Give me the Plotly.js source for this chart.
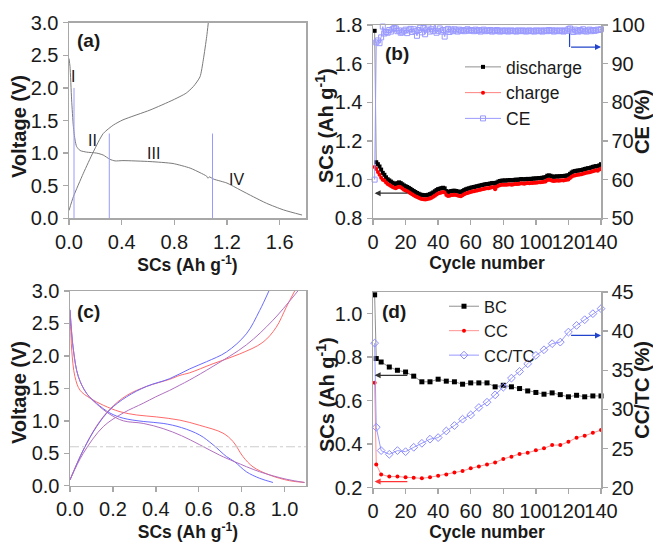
<!DOCTYPE html>
<html><head><meta charset="utf-8">
<script src="https://cdn.plot.ly/plotly-3.0.1.min.js"></script>
<style>html,body{margin:0;padding:0;background:#fff}#chart{width:653px;height:542px}</style>
</head><body><div id="chart"></div>
<script>
// ---------- Panel (a) ----------
const aDisX = [0, 0.0076, 0.02, 0.033, 0.046, 0.058, 0.084, 0.134, 0.21, 0.26, 0.31, 0.35, 0.41, 0.615, 0.79, 0.92, 0.995, 1.046, 1.055, 1.065, 1.1, 1.2, 1.3, 1.4, 1.5, 1.63, 1.77];
const aDisY = [2.45, 2.33, 1.815, 1.41, 1.2, 1.1, 1.04, 1.015, 1.0, 0.97, 0.905, 0.88, 0.885, 0.87, 0.84, 0.77, 0.7, 0.645, 0.615, 0.635, 0.6, 0.54, 0.435, 0.33, 0.23, 0.128, 0.05];
const aChaX = [0, 0.033, 0.109, 0.185, 0.26, 0.337, 0.41, 0.615, 0.79, 0.89, 0.944, 0.995, 1.02, 1.046, 1.058];
const aChaY = [0.12, 0.33, 0.69, 1.02, 1.3, 1.43, 1.51, 1.66, 1.815, 1.92, 2.02, 2.17, 2.43, 2.79, 3.0];
const aStageX = [0.038, 0.306, 1.09];
const aStageTop = [2.0, 1.3, 1.3];
const aLabels = ['I', 'II', 'III', 'IV'];
const aLabelX = [0.028, 0.18, 0.64, 1.27];
const aLabelY = [2.17, 1.2, 0.99, 0.6];

// ---------- Panel (b) ----------
const bDischarge = [1.770,1.090,1.080,1.068,1.052,1.035,1.025,1.012,1.002,0.996,
0.990,0.984,0.980,0.976,0.982,0.986,0.982,0.976,0.970,0.966,
0.962,0.957,0.952,0.946,0.941,0.936,0.931,0.927,0.923,0.921,
0.920,0.918,0.920,0.922,0.925,0.929,0.934,0.940,0.946,0.951,
0.953,0.956,0.958,0.955,0.941,0.936,0.938,0.941,0.942,0.943,
0.941,0.939,0.937,0.935,0.941,0.946,0.950,0.953,0.955,0.958,
0.960,0.962,0.964,0.966,0.968,0.970,0.972,0.974,0.976,0.977,
0.978,0.980,0.982,0.983,0.979,0.985,0.990,0.993,0.995,0.995,
0.996,0.995,0.997,0.998,0.996,0.997,0.999,1.000,0.999,1.001,
1.003,1.002,1.001,1.003,1.004,1.003,1.004,1.005,1.006,1.006,
1.007,1.008,1.008,1.010,1.011,1.013,1.020,1.022,1.020,1.016,
1.015,1.016,1.017,1.016,1.018,1.019,1.018,1.020,1.021,1.023,
1.030,1.037,1.042,1.044,1.046,1.047,1.048,1.050,1.052,1.055,
1.057,1.059,1.060,1.063,1.066,1.068,1.070,1.068,1.074,1.080];
const bCharge = [1.065,1.055,1.040,1.025,1.010,1.000,0.995,0.985,0.978,0.972,
0.967,0.962,0.958,0.955,0.960,0.963,0.960,0.954,0.948,0.944,
0.940,0.935,0.930,0.924,0.919,0.914,0.910,0.906,0.902,0.900,
0.899,0.897,0.899,0.901,0.903,0.906,0.911,0.917,0.923,0.928,
0.931,0.934,0.936,0.933,0.920,0.915,0.917,0.920,0.921,0.922,
0.920,0.918,0.916,0.914,0.919,0.924,0.928,0.931,0.933,0.936,
0.938,0.940,0.942,0.944,0.946,0.948,0.950,0.952,0.954,0.955,
0.956,0.958,0.960,0.961,0.950,0.963,0.968,0.971,0.973,0.973,
0.974,0.973,0.975,0.976,0.974,0.975,0.977,0.978,0.977,0.979,
0.981,0.980,0.979,0.981,0.982,0.981,0.982,0.983,0.984,0.984,
0.985,0.986,0.986,0.988,0.989,0.991,0.998,1.000,0.998,0.994,
0.993,0.994,0.995,0.994,0.996,0.997,0.996,0.998,0.999,1.001,
1.008,1.015,1.020,1.022,1.024,1.025,1.026,1.028,1.030,1.033,
1.035,1.037,1.038,1.041,1.044,1.046,1.048,1.046,1.052,1.058];
const bCE = [60.0,95.5,96.0,95.3,96.8,99.6,97.8,98.2,98.0,98.7,
98.3,98.9,99.2,99.1,98.4,98.6,98.0,98.1,98.5,98.8,
97.9,98.6,99.0,98.2,98.9,98.4,97.2,98.7,99.3,98.1,
99.2,97.6,98.8,99.4,98.3,98.9,98.5,100.6,98.0,98.5,
99.1,98.3,98.7,97.0,98.6,99.0,98.2,98.8,98.4,98.9,
98.6,98.3,98.8,98.5,98.7,98.4,98.6,98.9,98.5,98.7,
98.6,98.4,98.8,98.5,98.7,98.3,98.6,98.8,98.4,98.6,
98.5,98.7,98.3,98.6,98.4,98.7,98.5,98.3,98.6,98.4,
98.5,98.6,98.3,98.5,98.6,98.4,98.5,98.3,98.6,98.5,
98.4,98.6,98.5,98.3,98.5,98.6,98.4,98.5,98.3,98.6,
98.5,98.4,98.6,98.3,98.5,98.6,98.4,98.7,98.5,98.6,
98.3,98.6,98.5,98.4,98.6,98.5,98.3,98.6,98.5,98.9,
99.1,98.6,98.2,98.8,98.5,98.3,98.7,98.4,98.9,98.5,
98.3,98.6,98.8,98.4,98.7,98.5,98.6,98.8,98.7,98.9];
const bCycles = [];
for (let i = 1; i <= bDischarge.length; i++) bCycles.push(i);

// ---------- Panel (c) ----------
const cRedDisX = [0, 0.003, 0.008, 0.023, 0.047, 0.093, 0.155, 0.233, 0.31, 0.403, 0.512, 0.605, 0.713, 0.76, 0.806, 0.853, 0.93, 1.023, 1.093];
const cRedDisY = [2.6, 2.45, 2.09, 1.68, 1.47, 1.35, 1.24, 1.14, 1.09, 1.06, 1.01, 0.93, 0.81, 0.68, 0.45, 0.29, 0.165, 0.077, 0.05];
const cBlueDisX = [0, 0.016, 0.039, 0.078, 0.124, 0.186, 0.248, 0.341, 0.434, 0.52, 0.605, 0.667, 0.729, 0.767, 0.822, 0.884, 0.946];
const cBlueDisY = [2.71, 2.09, 1.68, 1.42, 1.27, 1.12, 1.04, 0.99, 0.96, 0.895, 0.78, 0.63, 0.45, 0.37, 0.215, 0.114, 0.05];
const cPurDisX = [0, 0.016, 0.039, 0.078, 0.124, 0.186, 0.248, 0.341, 0.434, 0.52, 0.605, 0.698, 0.767, 0.884, 1.008, 1.093];
const cPurDisY = [2.71, 2.09, 1.68, 1.42, 1.26, 1.1, 1.0, 0.96, 0.88, 0.77, 0.63, 0.47, 0.37, 0.215, 0.1, 0.05];
const cBlueChaX = [0, 0.062, 0.124, 0.186, 0.264, 0.357, 0.465, 0.558, 0.636, 0.729, 0.822, 0.884, 0.927];
const cBlueChaY = [0.09, 0.55, 0.91, 1.17, 1.37, 1.53, 1.65, 1.8, 1.91, 2.06, 2.34, 2.7, 3.0];
const cRedChaX = [0, 0.062, 0.124, 0.186, 0.264, 0.357, 0.465, 0.512, 0.558, 0.667, 0.791, 0.899, 0.961, 1.008, 1.047];
const cRedChaY = [0.09, 0.55, 0.92, 1.18, 1.39, 1.53, 1.64, 1.70, 1.74, 1.88, 2.03, 2.21, 2.44, 2.75, 3.0];
const cPurChaX = [0, 0.062, 0.155, 0.248, 0.341, 0.4, 0.465, 0.512, 0.558, 0.667, 0.822, 0.946, 1.062];
const cPurChaY = [0.09, 0.5, 0.91, 1.12, 1.27, 1.37, 1.47, 1.55, 1.63, 1.84, 2.17, 2.55, 3.0];
const cCutoff = 0.6;

// ---------- Panel (d) ----------
const dCycles = [1,2,5,10,15,20,25,30,35,40,45,50,55,60,65,70,75,80,85,90,95,100,105,110,115,120,125,130,135,140];
const dBC = [1.087,0.794,0.778,0.755,0.740,0.732,0.713,0.687,0.687,0.699,0.690,0.687,0.676,0.682,0.682,0.682,0.664,0.671,0.664,0.656,0.645,0.638,0.630,0.636,0.628,0.618,0.625,0.618,0.622,0.622];
const dCC = [0.683,0.307,0.261,0.251,0.251,0.248,0.246,0.243,0.248,0.255,0.261,0.270,0.277,0.289,0.297,0.307,0.316,0.332,0.342,0.355,0.361,0.372,0.381,0.396,0.396,0.411,0.430,0.439,0.453,0.465];
const dRatio = [38.47,27.72,24.74,24.27,24.74,24.60,25.16,25.67,26.20,26.40,27.25,27.94,28.75,29.30,30.24,30.92,31.86,32.84,34.00,34.85,35.83,36.90,37.62,38.40,38.60,39.88,40.73,41.46,42.23,42.87];

const FONT = 'Liberation Sans, Arial, sans-serif';
const AXC = '#a8a8a8';
function ax(extra) {
  return Object.assign({
    showline: true, linecolor: AXC, linewidth: 1.5, mirror: true,
    ticks: 'outside', ticklen: 5, tickwidth: 1.5, tickcolor: AXC,
    showgrid: false, zeroline: false, tickangle: 0,
    tickfont: {size: 20, color: '#1a1a1a', family: FONT}
  }, extra);
}
const sc = '<b>SCs (Ah g<sup>-1</sup>)</b>';
const xTitle = t => ({text: t, font: {size: 17.5, color: '#1a1a1a', family: FONT}, standoff: 0});
const yTitle = t => ({text: t, font: {size: 20, color: '#1a1a1a', family: FONT}, standoff: 0});

const traces = [
  // (a)
  {x: aDisX, y: aDisY, xaxis: 'x', yaxis: 'y', mode: 'lines', line: {color: '#7a7a7a', width: 1, shape: 'spline', smoothing: 0.6}, showlegend: false},
  {x: aChaX, y: aChaY, xaxis: 'x', yaxis: 'y', mode: 'lines', line: {color: '#7a7a7a', width: 1, shape: 'spline', smoothing: 0.6}, showlegend: false},
  // (b)
  {x: bCycles, y: bDischarge, xaxis: 'x2', yaxis: 'y2', name: 'discharge', mode: 'lines+markers', line: {color: '#909090', width: 1}, marker: {symbol: 'square', size: 4, color: '#000'}, cliponaxis: false, legend: 'legend'},
  {x: bCycles, y: bCharge, xaxis: 'x2', yaxis: 'y2', name: 'charge', mode: 'lines+markers', line: {color: '#ff8080', width: 1}, marker: {symbol: 'circle', size: 4, color: '#ff0000'}, cliponaxis: false, legend: 'legend'},
  {x: bCycles, y: bCE, xaxis: 'x2', yaxis: 'y3', name: 'CE', mode: 'lines+markers', line: {color: '#9a9aff', width: 1}, marker: {symbol: 'square-open', size: 5, color: '#9a9aff', line: {width: 1}}, cliponaxis: false, legend: 'legend'},
  // (c)
  {x: cRedDisX, y: cRedDisY, xaxis: 'x3', yaxis: 'y4', mode: 'lines', line: {color: '#ff6a6a', width: 1, shape: 'spline'}, showlegend: false},
  {x: cBlueDisX, y: cBlueDisY, xaxis: 'x3', yaxis: 'y4', mode: 'lines', line: {color: '#6a6aff', width: 1, shape: 'spline'}, showlegend: false},
  {x: cPurDisX, y: cPurDisY, xaxis: 'x3', yaxis: 'y4', mode: 'lines', line: {color: '#b070c0', width: 1, shape: 'spline'}, showlegend: false},
  {x: cRedChaX, y: cRedChaY, xaxis: 'x3', yaxis: 'y4', mode: 'lines', line: {color: '#ff6a6a', width: 1, shape: 'spline'}, showlegend: false},
  {x: cBlueChaX, y: cBlueChaY, xaxis: 'x3', yaxis: 'y4', mode: 'lines', line: {color: '#6a6aff', width: 1, shape: 'spline'}, showlegend: false},
  {x: cPurChaX, y: cPurChaY, xaxis: 'x3', yaxis: 'y4', mode: 'lines', line: {color: '#b070c0', width: 1, shape: 'spline'}, showlegend: false},
  // (d)
  {x: dCycles, y: dBC, xaxis: 'x4', yaxis: 'y5', name: 'BC', mode: 'lines+markers', line: {color: '#909090', width: 1}, marker: {symbol: 'square', size: 5, color: '#000'}, cliponaxis: false, legend: 'legend2'},
  {x: dCycles, y: dCC, xaxis: 'x4', yaxis: 'y5', name: 'CC', mode: 'lines+markers', line: {color: '#ff9090', width: 1}, marker: {symbol: 'circle', size: 4, color: '#ff0000'}, cliponaxis: false, legend: 'legend2'},
  {x: dCycles, y: dRatio, xaxis: 'x4', yaxis: 'y6', name: 'CC/TC', mode: 'lines+markers', line: {color: '#9a9aff', width: 1}, marker: {symbol: 'diamond-open', size: 6, color: '#8c8cff', line: {width: 1}}, cliponaxis: false, legend: 'legend2'}
];

const shapes = [];
aStageX.forEach((xv, i) => shapes.push({type: 'line', xref: 'x', yref: 'y', x0: xv, x1: xv, y0: 0, y1: aStageTop[i], line: {color: '#9a9aff', width: 1}}));
shapes.push({type: 'line', xref: 'x3', yref: 'y4', x0: 0, x1: 1.1, y0: cCutoff, y1: cCutoff, line: {color: '#cccccc', width: 1, dash: 'dashdot'}});
shapes.push({type: 'line', xref: 'x2', yref: 'y3', x0: 120.7, x1: 120.7, y0: 97.8, y1: 94.3, line: {color: '#2244cc', width: 1.2}});

const W = 653, H = 542;
const annotations = [];
aLabels.forEach((t, i) => annotations.push({xref: 'x', yref: 'y', x: aLabelX[i], y: aLabelY[i], text: t, showarrow: false, font: {size: 16, color: '#1a1a1a', family: FONT}}));
const panel = (t, px, py) => ({xref: 'paper', yref: 'paper', x: px / W, y: 1 - py / H, xanchor: 'center', yanchor: 'middle', text: '<b>' + t + '</b>', showarrow: false, font: {size: 19, color: '#1a1a1a', family: FONT}});
annotations.push(panel('(a)', 89, 40), panel('(b)', 397, 54), panel('(c)', 89, 311), panel('(d)', 394, 311));
// left y-axis titles
const yLab = (t, px, py) => ({xref: 'paper', yref: 'paper', x: px / W, y: 1 - py / H, xanchor: 'center', yanchor: 'middle', textangle: -90, text: t, showarrow: false, font: {size: 20, color: '#1a1a1a', family: FONT}});
annotations.push(yLab('<b>Voltage (V)</b>', 19, 127), yLab(sc, 325, 126), yLab('<b>Voltage (V)</b>', 19, 393), yLab(sc, 325, 395));
const arrow = (xr, yr, x0, x1, y, color) => ({xref: xr, yref: yr, axref: xr, ayref: yr, x: x1, y: y, ax: x0, ay: y, text: '', showarrow: true, arrowhead: 2, arrowsize: 1, arrowwidth: 1.2, arrowcolor: color, standoff: 0, startstandoff: 0});
annotations.push(arrow('x2', 'y2', 22, 1, 0.93, '#333333'));
annotations.push(arrow('x2', 'y3', 120.7, 140, 94.3, '#2244cc'));
annotations.push(arrow('x4', 'y5', 22, 1, 0.717, '#333333'));
annotations.push(arrow('x4', 'y5', 22, 1, 0.228, '#ff3333'));
annotations.push(arrow('x4', 'y6', 120.7, 140, 39.45, '#2244cc'));

const dx = (a, b) => [a / W, b / W];
const dy = (top, bot) => [1 - bot / H, 1 - top / H];

const layout = {
  width: W, height: H, margin: {l: 0, r: 0, t: 0, b: 0},
  paper_bgcolor: '#fff', plot_bgcolor: '#fff',
  font: {family: FONT, color: '#1a1a1a'},
  xaxis: ax({domain: dx(69, 306), anchor: 'y', range: [0, 1.8], dtick: 0.4, tickformat: '.1f', title: xTitle(sc)}),
  yaxis: ax({domain: dy(22.7, 218.3), anchor: 'x', range: [0, 3], dtick: 0.5, tickformat: '.1f'}),
  xaxis2: ax({domain: dx(373, 601), anchor: 'y2', range: [0, 140], dtick: 20, title: xTitle('<b>Cycle number</b>')}),
  yaxis2: ax({domain: dy(25, 218.3), anchor: 'x2', range: [0.8, 1.8], dtick: 0.2, tickformat: '.1f', mirror: false}),
  yaxis3: ax({overlaying: 'y2', side: 'right', anchor: 'x2', range: [50, 100], dtick: 10, mirror: false, title: yTitle('<b>CE (%)</b>')}),
  xaxis3: ax({domain: dx(70, 306), anchor: 'y4', range: [0, 1.1], dtick: 0.2, tickformat: '.1f', title: xTitle(sc)}),
  yaxis4: ax({domain: dy(291, 485.7), anchor: 'x3', range: [0, 3], dtick: 0.5, tickformat: '.1f'}),
  xaxis4: ax({domain: dx(373, 601), anchor: 'y5', range: [0, 140], dtick: 20, title: xTitle('<b>Cycle number</b>')}),
  yaxis5: ax({domain: dy(292, 487.7), anchor: 'x4', range: [0.2, 1.1], tick0: 0.2, dtick: 0.2, tickformat: '.1f', mirror: false}),
  yaxis6: ax({overlaying: 'y5', side: 'right', anchor: 'x4', range: [20, 45], dtick: 5, mirror: false, title: yTitle('<b>CC/TC (%)</b>')}),
  legend: {x: 460 / W, y: 1 - 49 / H, xanchor: 'left', yanchor: 'top', bgcolor: 'rgba(0,0,0,0)', itemwidth: 36, font: {size: 17.5, color: '#1a1a1a', family: FONT}, tracegroupgap: 0},
  legend2: {x: 444 / W, y: 1 - 289 / H, xanchor: 'left', yanchor: 'top', bgcolor: 'rgba(0,0,0,0)', font: {size: 16.5, color: '#1a1a1a', family: FONT}, tracegroupgap: 0},
  shapes: shapes,
  annotations: annotations
};

Plotly.newPlot('chart', traces, layout, {displayModeBar: false, staticPlot: true});
</script></body></html>
